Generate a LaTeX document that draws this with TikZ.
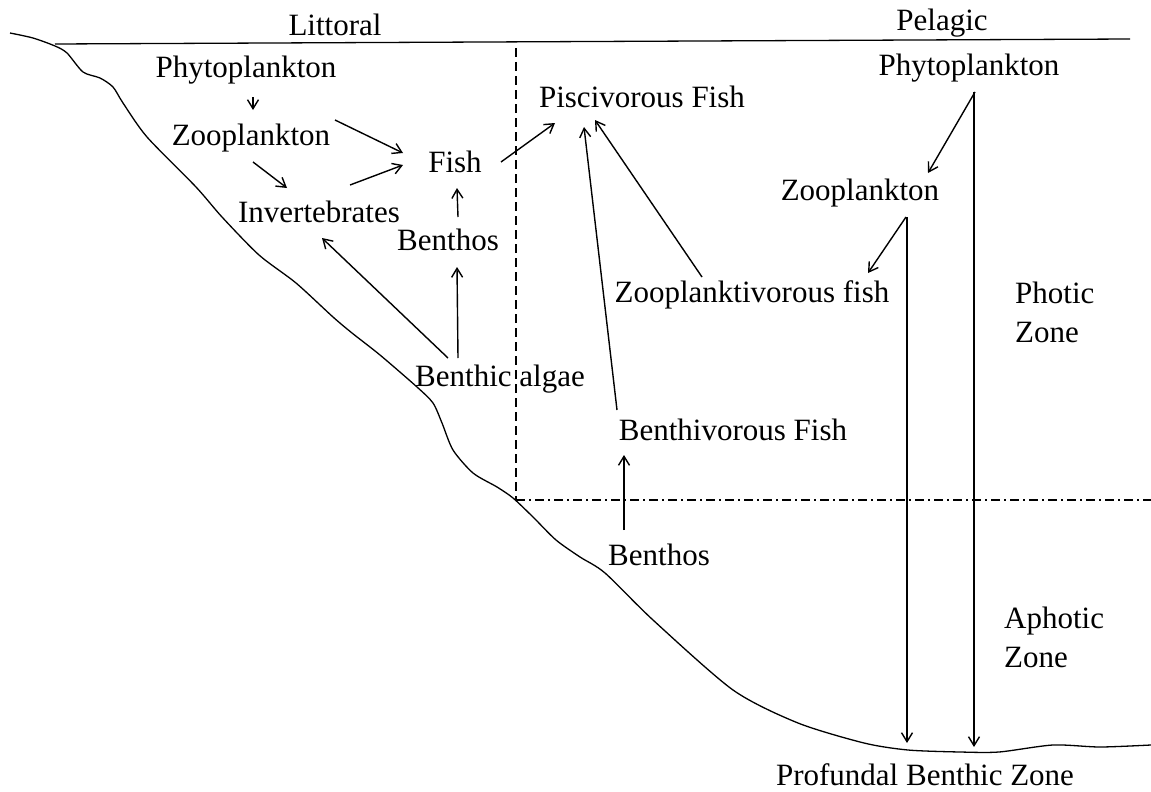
\documentclass[tikz,border=0pt]{standalone}
\usepackage{fontspec}
\setmainfont{Liberation Serif}
\usetikzlibrary{arrows.meta}
\begin{document}
\begin{tikzpicture}[x=1pt,y=-1pt,
  lbl/.style={inner sep=0pt,font=\fontsize{31}{39}\selectfont},
  arr/.style={line width=1.4pt,-{Straight Barb[length=9pt,width=11pt,line width=1.4pt]}},
  lineS/.style={line width=1.3pt},
  dashv/.style={line width=1.3pt,dash pattern=on 9pt off 5pt},
  dashdot/.style={line width=1.3pt,dash pattern=on 9pt off 4pt on 2pt off 4pt}]
\useasboundingbox (0,0) rectangle (1151,792);
% water surface and lake bed
\draw[lineS] (55,44) -- (1130,39);
\draw[lineS] plot[smooth,tension=0.45] coordinates {(10,33) (33,38) (55,46) (67,53) (83,72) (100,78) (113,87) (123,103) (147,137) (196,187) (222,217) (259,255) (296,283) (333,317) (352,333) (380,355) (417,387) (433,403) (442,423) (453,450) (473,473) (497,487) (513,498) (533,517) (556,540) (580,557) (605,573) (653,620) (733,690) (798,723) (864,743) (908,750) (960,752) (999,752) (1053,745) (1100,747) (1151,745)};
% zone boundaries
\draw[dashv] (516,48) -- (516,500);
\draw[dashdot] (516,500) -- (1151,500);
% labels
\node[lbl] (littoral) at (335,25) {Littoral};
\node[lbl] (pelagic) at (942,23) {Pelagic};
\node[lbl] (phytoL) at (246,70) {Phytoplankton};
\node[lbl] (zooL) at (251,138) {Zooplankton};
\node[lbl] (fish) at (455,162) {Fish};
\node[lbl] (inv) at (319,212) {Invertebrates};
\node[lbl] (benthosL) at (448,240) {Benthos};
\node[lbl] (algae) at (500,379) {Benthic algae};
\node[lbl] (pisc) at (642,97) {Piscivorous Fish};
\node[lbl] (zplk) at (752,295) {Zooplanktivorous fish};
\node[lbl] (benthivF) at (733,430) {Benthivorous Fish};
\node[lbl] (benthosR) at (659,555) {Benthos};
\node[lbl] (phytoR) at (969,68) {Phytoplankton};
\node[lbl] (zooR) at (860,193) {Zooplankton};
\node[lbl,align=left,anchor=west] (photic) at (1015,312) {Photic\\Zone};
\node[lbl,align=left,anchor=west] (aphotic) at (1004,637) {Aphotic\\Zone};
\node[lbl] (profundal) at (925,775) {Profundal Benthic Zone};
\coordinate (bot1) at (907,743);
\coordinate (bot2) at (974,747);
% arrows
\draw[arr] ([shift={(7,27)}]phytoL.center) -- ([shift={(2,-28)}]zooL.center);
\draw[arr] ([shift={(84,-18)}]zooL.center) -- ([shift={(-52,-9)}]fish.center);
\draw[arr] ([shift={(2,24)}]zooL.center) -- ([shift={(-32,-24)}]inv.center);
\draw[arr] ([shift={(31,-27)}]inv.center) -- ([shift={(-52,3)}]fish.center);
\draw[arr] ([shift={(10,-23)}]benthosL.center) -- ([shift={(2,26)}]fish.center);
\draw[arr] ([shift={(46,0)}]fish.center) -- ([shift={(-87,26)}]pisc.center);
\draw[arr] ([shift={(-52,-21)}]algae.center) -- ([shift={(3,26)}]inv.center);
\draw[arr] ([shift={(-42,-21)}]algae.center) -- ([shift={(9,27)}]benthosL.center);
\draw[arr] ([shift={(-116,-20)}]benthivF.center) -- ([shift={(-58,30)}]pisc.center);
\draw[arr] ([shift={(-50,-18)}]zplk.center) -- ([shift={(-47,23)}]pisc.center);
\draw[arr] ([shift={(6,24)}]phytoR.center) -- ([shift={(68,-20)}]zooR.center);
\draw[arr] ([shift={(5,24)}]phytoR.center) -- (bot2);
\draw[arr] ([shift={(46,24)}]zooR.center) -- ([shift={(116,-22)}]zplk.center);
\draw[arr] ([shift={(47,24)}]zooR.center) -- (bot1);
\draw[arr] ([shift={(-35,-25)}]benthosR.center) -- ([shift={(-109,25)}]benthivF.center);
\end{tikzpicture}
\end{document}
